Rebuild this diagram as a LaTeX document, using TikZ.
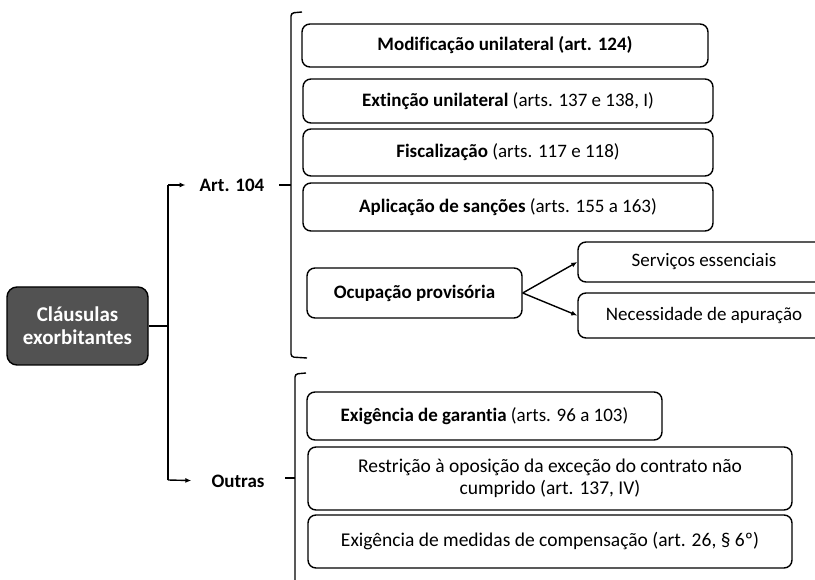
\documentclass[tikz,border=0pt]{standalone}
\usepackage{fontspec}
\setmainfont[Ligatures=NoCommon]{Carlito}
\usetikzlibrary{arrows.meta}
\begin{document}
\begin{tikzpicture}[x=1pt,y=-1pt,
  box/.style={draw=black,line width=1.4pt,rounded corners=8pt,align=center,inner sep=2pt,font=\fontsize{19}{22}\selectfont},
  mainbox/.style={draw=black,line width=1.4pt,fill=black!68,rounded corners=10pt,align=center,text=white,font=\fontsize{21}{23}\selectfont\bfseries},
  lbl/.style={font=\fontsize{19}{21}\selectfont\bfseries,inner sep=1pt},
  conn/.style={line width=1.4pt},
  arr/.style={line width=1.4pt,-{Latex[length=6pt,width=5pt]}}
]
\useasboundingbox (0,0) rectangle (815,580);
\clip (0,0) rectangle (815,580);
% main
\node[mainbox,minimum width=141pt,minimum height=78pt] (main) at (77.5,326) {Cláusulas\\exorbitantes};
\node[lbl] (art) at (232,185) {Art. 104};
\node[lbl] (out) at (238,481) {Outras};
\coordinate (j) at (168,326);
\coordinate (jt) at (168,185);
\coordinate (jb) at (168,480);
\draw[conn] (main.east) -- (j);
\draw[conn] (jt) -- (jb);
\draw[arr,shorten >=13pt] (jt) -- (art.west);
\draw[arr,shorten >=19pt] (jb) -- (out.west);
% brackets
\coordinate (b1t) at (302,12);
\coordinate (b1b) at (307,358);
\draw[conn,rounded corners=3pt] (b1t) -- (291,13) -- (291,357) -- (b1b);
\draw[conn] (279,185) -- (291,185);
\coordinate (b2t) at (306,373);
\draw[conn,rounded corners=3pt] (b2t) -- (295,374) -- (295,590);
\draw[conn] (285,478) -- (295,478);
% boxes
\node[box,minimum width=406pt,minimum height=43pt] (b1) at (505,45.5) {\textbf{Modificação unilateral (art. 124)}};
\node[box,minimum width=410pt,minimum height=44pt] (b2) at (508,101) {\textbf{Extinção unilateral} (arts. 137 e 138, I)};
\node[box,minimum width=410pt,minimum height=47pt] (b3) at (508,152.5) {\textbf{Fiscalização} (arts. 117 e 118)};
\node[box,minimum width=410pt,minimum height=48pt] (b4) at (508,207) {\textbf{Aplicação de sanções} (arts. 155 a 163)};
\node[box,minimum width=215pt,minimum height=50pt] (b5) at (414.5,293) {\textbf{Ocupação provisória}};
\node[box,minimum width=252pt,minimum height=40pt] (b6) at (704,262) {Serviços essenciais};
\node[box,minimum width=252pt,minimum height=45pt] (b7) at (704,315.5) {Necessidade de apuração};
\node[box,minimum width=355pt,minimum height=48pt] (b8) at (484.5,416) {\textbf{Exigência de garantia} (arts. 96 a 103)};
\node[box,minimum width=484pt,minimum height=63pt,font=\fontsize{19.5}{22}\selectfont] (b9) at (550,478.5) {Restrição à oposição da exceção do contrato não\\cumprido (art. 137, IV)};
\node[box,minimum width=484pt,minimum height=53pt,font=\fontsize{19.5}{22}\selectfont] (b10) at (550,541.5) {Exigência de medidas de compensação (art. 26, § 6º)};
\draw[arr] (b5.east) -- (b6.west);
\draw[arr] (b5.east) -- (b7.west);
\end{tikzpicture}
\end{document}
